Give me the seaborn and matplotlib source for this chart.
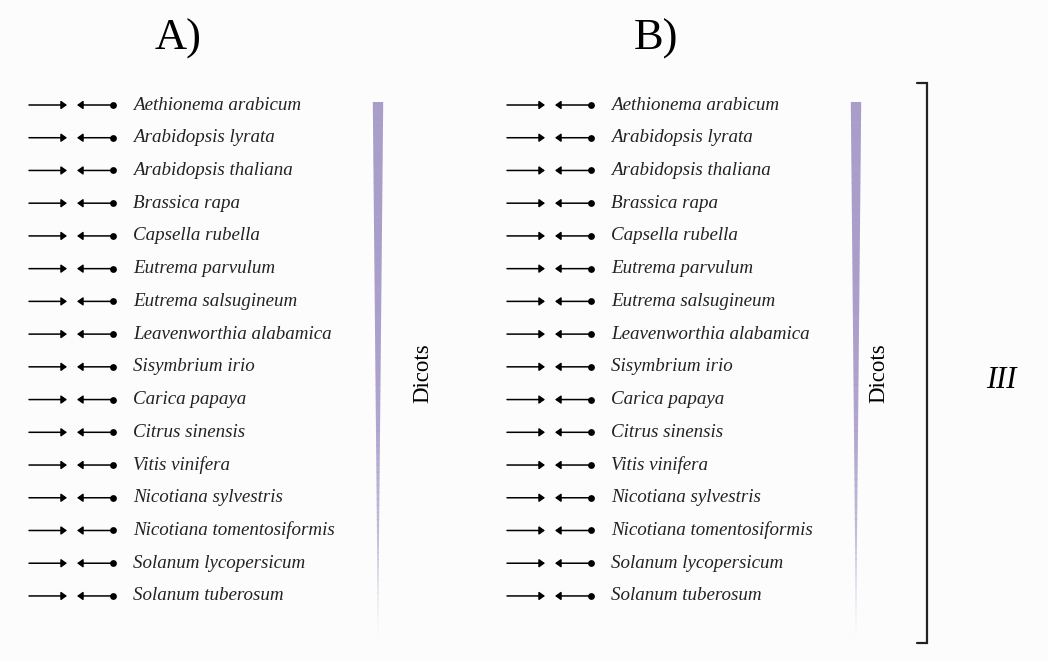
import matplotlib
matplotlib.use("Agg")
import matplotlib.pyplot as plt
import numpy as np
import pandas as pd
import seaborn as sns
from matplotlib.patches import Polygon

sns.set_theme(style="white")
plt.rcParams["font.family"] = ["Liberation Serif", "DejaVu Serif"]

# Species listed in each panel (same order in A and B)
species = [
    "Aethionema arabicum", "Arabidopsis lyrata", "Arabidopsis thaliana",
    "Brassica rapa", "Capsella rubella", "Eutrema parvulum",
    "Eutrema salsugineum", "Leavenworthia alabamica", "Sisymbrium irio",
    "Carica papaya", "Citrus sinensis", "Vitis vinifera",
    "Nicotiana sylvestris", "Nicotiana tomentosiformis",
    "Solanum lycopersicum", "Solanum tuberosum",
]
panels = ["A)", "B)"]
group_label = "Dicots"
clade_label = "III"

W, H = 1048, 661
fig = plt.figure(figsize=(W / 100, H / 100), dpi=100)
fig.patch.set_facecolor("#fcfcfc")
ax = fig.add_axes([0, 0, 1, 1])
ax.set_xlim(0, W)
ax.set_ylim(H, 0)
ax.axis("off")

row0, row_step = 105, 32.73
panel_dx = 478
wedge_col = "#a99dca"
head = "-|>,head_length=0.28,head_width=0.2"

rows = []
for p, name in enumerate(panels):
    for i, sp in enumerate(species):
        rows.append({"panel": name, "species": sp, "x0": p * panel_dx,
                     "y": row0 + i * row_step})
df = pd.DataFrame(rows)

# Dots at the tail of each left-pointing arrow
sns.scatterplot(data=df, x=df["x0"] + 113, y="y", color="black", s=24,
                edgecolor="black", linewidth=0, ax=ax, legend=False, zorder=3)

for _, r in df.iterrows():
    x0, y = r["x0"], r["y"]
    ax.annotate("", xy=(x0 + 67, y), xytext=(x0 + 29, y),
                arrowprops=dict(arrowstyle=head, color="black", lw=1.1,
                                shrinkA=0, shrinkB=0))
    ax.annotate("", xy=(x0 + 77, y), xytext=(x0 + 112, y),
                arrowprops=dict(arrowstyle=head, color="black", lw=1.1,
                                shrinkA=0, shrinkB=0))
    ax.text(x0 + 133, y, r["species"], style="italic", fontsize=13.7,
            va="center", ha="left", color="#222222")

for p, name in enumerate(panels):
    x0 = p * panel_dx
    ax.text(x0 + 178, 39, name, fontsize=32, ha="center", va="center",
            color="black")
    # tapering wedge, fading toward the tip
    wx = x0 + 378
    top, bot = 102, 640
    n = 80
    ys = np.linspace(top, bot, n + 1)
    for k in range(n):
        ya, yb = ys[k], ys[k + 1]
        ta, tb = (ya - top) / (bot - top), (yb - top) / (bot - top)
        wa, wb = 5.2 * (1 - ta), 5.2 * (1 - tb)
        alpha = 1.0 - 0.85 * ta ** 4
        ax.add_patch(Polygon([(wx - wa, ya), (wx + wa, ya),
                              (wx + wb, yb + 0.5), (wx - wb, yb + 0.5)],
                             closed=True, facecolor=wedge_col, edgecolor="none",
                             alpha=alpha))
    lx = x0 + (423 if p == 0 else 401)
    ax.text(lx, 373, group_label, rotation=90, fontsize=16.5, ha="center",
            va="center", color="black")

# Bracket grouping panel B
bx, btop, bbot = 927, 83, 643
ax.plot([917, bx, bx, 917], [btop, btop, bbot, bbot], color="#222222",
        lw=1.6, solid_joinstyle="miter")
ax.text(1001, 380, clade_label, style="italic", fontsize=22, ha="center",
        va="center", color="black")

fig.savefig("out.png", dpi=100, facecolor=fig.get_facecolor())
